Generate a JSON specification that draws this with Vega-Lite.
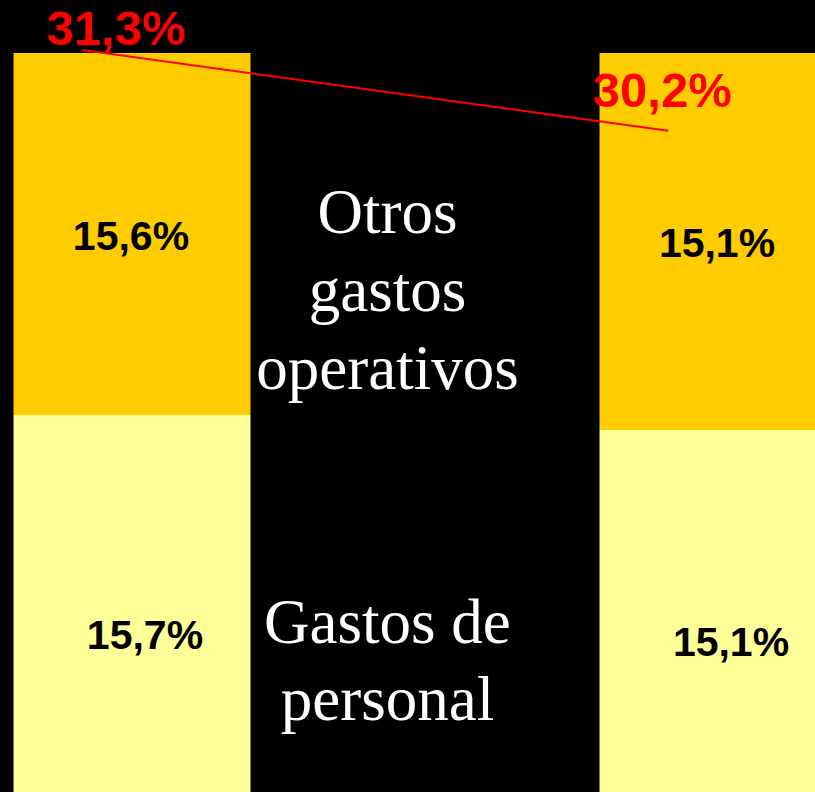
{
  "$schema": "https://vega.github.io/schema/vega-lite/v6.json",
  "width": 815,
  "height": 739,
  "autosize": {"type": "none"},
  "padding": {"top": 53, "left": 0, "right": 0, "bottom": 0},
  "background": "#000000",
  "config": {
    "view": {"stroke": null},
    "locale": {"number": {"decimal": ",", "thousands": ".", "grouping": [3], "currency": ["", " €"]}}
  },
  "datasets": {
    "gastos": [
      {"periodo": "Periodo 1", "categoria": "Gastos de personal", "valor": 0.157},
      {"periodo": "Periodo 1", "categoria": "Otros gastos operativos", "valor": 0.156},
      {"periodo": "Periodo 2", "categoria": "Gastos de personal", "valor": 0.151},
      {"periodo": "Periodo 2", "categoria": "Otros gastos operativos", "valor": 0.151}
    ],
    "totales": [
      {"periodo": "Periodo 1", "total": 0.313},
      {"periodo": "Periodo 2", "total": 0.302}
    ],
    "rotulos": [
      {"categoria": "Otros gastos operativos", "lineas": ["Otros", "gastos", "operativos"]},
      {"categoria": "Gastos de personal", "lineas": ["Gastos de", "personal"]}
    ]
  },
  "resolve": {"scale": {"y": "independent"}},
  "layer": [
    {
      "data": {"name": "gastos"},
      "transform": [
        {"stack": "valor", "groupby": ["periodo"], "sort": [{"field": "categoria", "order": "ascending"}], "as": ["v0", "v1"]}
      ],
      "mark": {"type": "bar", "clip": true},
      "encoding": {
        "x": {"field": "periodo", "type": "nominal", "axis": null,
              "scale": {"type": "band", "domain": ["Periodo 1", "Periodo 2"], "range": [0, 850], "paddingInner": 0.5956, "paddingOuter": 0.02305}},
        "y": {"field": "v1", "type": "quantitative", "axis": null, "scale": {"domain": [0.006, 0.302]}},
        "y2": {"field": "v0"},
        "color": {"field": "categoria", "type": "nominal", "legend": null,
                  "scale": {"domain": ["Gastos de personal", "Otros gastos operativos"], "range": ["#FFFF99", "#FFCC00"]}}
      }
    },
    {
      "data": {"name": "gastos"},
      "transform": [
        {"stack": "valor", "groupby": ["periodo"], "sort": [{"field": "categoria", "order": "ascending"}], "as": ["v0", "v1"]},
        {"calculate": "(max(datum.v0, 0.006) + min(datum.v1, 0.302)) / 2", "as": "medio"},
        {"filter": "datum.categoria == 'Otros gastos operativos'"}
      ],
      "mark": {"type": "text", "font": "Liberation Sans", "fontWeight": "bold", "fontSize": 41, "color": "#000000", "align": "center", "baseline": "alphabetic", "dx": -1, "dy": 16},
      "encoding": {
        "x": {"field": "periodo", "type": "nominal", "axis": null, "bandPosition": 0.5},
        "y": {"field": "medio", "type": "quantitative", "axis": null, "scale": {"domain": [0.006, 0.302]}},
        "text": {"field": "valor", "type": "quantitative", "format": ".1%"}
      }
    },
    {
      "data": {"name": "gastos"},
      "transform": [
        {"stack": "valor", "groupby": ["periodo"], "sort": [{"field": "categoria", "order": "ascending"}], "as": ["v0", "v1"]},
        {"calculate": "(max(datum.v0, 0.006) + min(datum.v1, 0.302)) / 2", "as": "medio"},
        {"filter": "datum.categoria == 'Gastos de personal'"}
      ],
      "mark": {"type": "text", "font": "Liberation Sans", "fontWeight": "bold", "fontSize": 41, "color": "#000000", "align": "center", "baseline": "alphabetic", "dx": 13, "dy": 45},
      "encoding": {
        "x": {"field": "periodo", "type": "nominal", "axis": null, "bandPosition": 0.5},
        "y": {"field": "medio", "type": "quantitative", "axis": null, "scale": {"domain": [0.006, 0.302]}},
        "text": {"field": "valor", "type": "quantitative", "format": ".1%"}
      }
    },
    {
      "data": {"name": "gastos"},
      "transform": [
        {"stack": "valor", "groupby": ["periodo"], "sort": [{"field": "categoria", "order": "ascending"}], "as": ["v0", "v1"]},
        {"calculate": "(max(datum.v0, 0.006) + min(datum.v1, 0.302)) / 2", "as": "medio"},
        {"filter": "datum.periodo == 'Periodo 1' && datum.categoria == 'Otros gastos operativos'"},
        {"lookup": "categoria", "from": {"data": {"name": "rotulos"}, "key": "categoria", "fields": ["lineas"]}}
      ],
      "mark": {"type": "text", "font": "Liberation Serif", "fontSize": 63, "lineHeight": 78, "color": "#FFFFFF", "align": "center", "baseline": "alphabetic", "dy": -1},
      "encoding": {
        "x": {"field": "periodo", "type": "nominal", "axis": null, "bandPosition": 1.578},
        "y": {"field": "medio", "type": "quantitative", "axis": null, "scale": {"domain": [0.006, 0.302]}},
        "text": {"field": "lineas", "type": "nominal"}
      }
    },
    {
      "data": {"name": "gastos"},
      "transform": [
        {"stack": "valor", "groupby": ["periodo"], "sort": [{"field": "categoria", "order": "ascending"}], "as": ["v0", "v1"]},
        {"calculate": "(max(datum.v0, 0.006) + min(datum.v1, 0.302)) / 2", "as": "medio"},
        {"filter": "datum.periodo == 'Periodo 1' && datum.categoria == 'Gastos de personal'"},
        {"lookup": "categoria", "from": {"data": {"name": "rotulos"}, "key": "categoria", "fields": ["lineas"]}}
      ],
      "mark": {"type": "text", "font": "Liberation Serif", "fontSize": 63, "lineHeight": 77, "color": "#FFFFFF", "align": "center", "baseline": "alphabetic", "dy": 39},
      "encoding": {
        "x": {"field": "periodo", "type": "nominal", "axis": null, "bandPosition": 1.578},
        "y": {"field": "medio", "type": "quantitative", "axis": null, "scale": {"domain": [0.006, 0.302]}},
        "text": {"field": "lineas", "type": "nominal"}
      }
    },
    {
      "data": {"name": "totales"},
      "mark": {"type": "line", "color": "#FF0000", "strokeWidth": 2},
      "encoding": {
        "x": {"field": "periodo", "type": "nominal", "axis": null, "bandPosition": 0.29},
        "y": {"field": "total", "type": "quantitative", "axis": null, "scale": {"domain": [0.2119, 0.3126], "zero": false}}
      }
    },
    {
      "data": {"name": "totales"},
      "transform": [{"filter": "datum.periodo == 'Periodo 1'"}],
      "mark": {"type": "text", "font": "Liberation Sans", "fontWeight": "bold", "fontSize": 49, "color": "#FF0000", "align": "center", "baseline": "alphabetic", "dx": 34, "dy": -5},
      "encoding": {
        "x": {"field": "periodo", "type": "nominal", "axis": null, "bandPosition": 0.29},
        "y": {"field": "total", "type": "quantitative", "axis": null, "scale": {"domain": [0.2119, 0.3126], "zero": false}},
        "text": {"field": "total", "type": "quantitative", "format": ".1%"}
      }
    },
    {
      "data": {"name": "totales"},
      "transform": [{"filter": "datum.periodo == 'Periodo 2'"}],
      "mark": {"type": "text", "font": "Liberation Sans", "fontWeight": "bold", "fontSize": 49, "color": "#FF0000", "align": "center", "baseline": "alphabetic", "dx": -6, "dy": -24},
      "encoding": {
        "x": {"field": "periodo", "type": "nominal", "axis": null, "bandPosition": 0.29},
        "y": {"field": "total", "type": "quantitative", "axis": null, "scale": {"domain": [0.2119, 0.3126], "zero": false}},
        "text": {"field": "total", "type": "quantitative", "format": ".1%"}
      }
    }
  ]
}
